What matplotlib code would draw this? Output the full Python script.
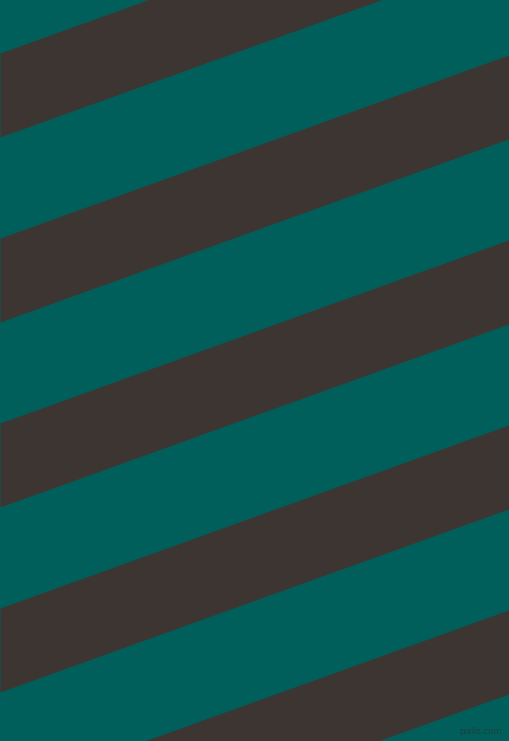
import numpy as np
import matplotlib
matplotlib.use('Agg')
import matplotlib.pyplot as plt

# left-edge y of each dark band's top edge (pixels, image coords)
band_starts = [53, 238, 423, 608, 793]
band_width = 84
slope = 0.36  # rise per pixel going right

teal = '#015f5b'
dark = '#3d3532'

W, H = 509, 741

def main():
    fig = plt.figure(figsize=(W / 100, H / 100), dpi=100)
    ax = fig.add_axes([0, 0, 1, 1])
    ax.set_facecolor(teal)
    x = np.array([0, W])
    for s in band_starts:
        ax.fill_between(x, s - slope * x, s + band_width - slope * x,
                        color=dark, linewidth=0)
    ax.text(502, 731, 'pixlis.com', fontsize=6, color='#1c3f3c',
            ha='right', va='center')
    ax.set_xlim(0, W)
    ax.set_ylim(H, 0)
    ax.axis('off')
    fig.patch.set_facecolor(teal)
    plt.savefig('out.png', dpi=100, facecolor=teal)

if __name__ == "__main__":
    main()
